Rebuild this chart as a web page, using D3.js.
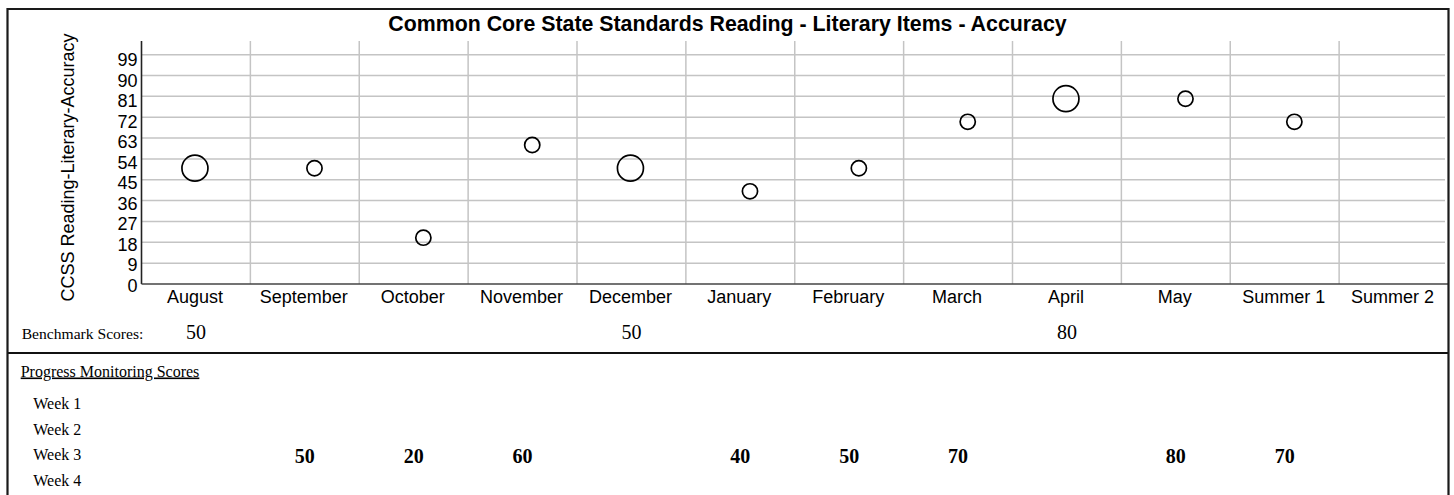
<!DOCTYPE html>
<html>
<head>
<meta charset="utf-8">
<script src="https://cdn.jsdelivr.net/npm/d3@7"></script>
<style>
  html, body { margin: 0; padding: 0; background: #fff; }
  svg { display: block; }
</style>
</head>
<body>
<svg id="chart" width="1454" height="495"></svg>
<script>
// ---- data ----
const title = "Common Core State Standards Reading - Literary Items - Accuracy";
const yAxisTitle = "CCSS Reading-Literary-Accuracy";
const months = ["August", "September", "October", "November", "December", "January",
                "February", "March", "April", "May", "Summer 1", "Summer 2"];
const yTicks = [0, 9, 18, 27, 36, 45, 54, 63, 72, 81, 90, 99];
const benchmarkScores = [50, null, null, null, 50, null, null, null, 80, null, null, null];
const weeks = ["Week 1", "Week 2", "Week 3", "Week 4"];
const week1Scores = [null, null, null, null, null, null, null, null, null, null, null, null];
const week2Scores = [null, null, null, null, null, null, null, null, null, null, null, null];
const week3Scores = [null, 50, 20, 60, null, 40, 50, 70, null, 80, 70, null];
const week4Scores = [null, null, null, null, null, null, null, null, null, null, null, null];
const weekScores = [week1Scores, week2Scores, week3Scores, week4Scores];

// ---- layout ----
const svg = d3.select("#chart");
const plot = { left: 141.5, right: 1448, top: 41, bottom: 284 };

const x = d3.scaleBand().domain(months).range([plot.left, plot.right]).padding(0);
const y = d3.scaleLinear().domain([0, 104.9]).range([plot.bottom, plot.top]);
const yLabel = d3.scaleLinear().domain([0, 99]).range([285.5, 60]);
const weekOffset = d3.scalePoint().domain(weeks).range([-29, 29]);

const gridColor = "#c4c4c4";
const sans = "'Liberation Sans', Arial, sans-serif";
const serif = "'Liberation Serif', 'Times New Roman', serif";

// horizontal gridlines
svg.append("g").selectAll("line").data(yTicks.filter(d => d > 0)).join("line")
  .attr("x1", plot.left).attr("x2", 1445)
  .attr("y1", d => y(d)).attr("y2", d => y(d))
  .attr("stroke", gridColor).attr("stroke-width", 1.5);

// vertical gridlines (band boundaries)
svg.append("g").selectAll("line").data(months.slice(1)).join("line")
  .attr("x1", d => x(d)).attr("x2", d => x(d))
  .attr("y1", plot.top).attr("y2", plot.bottom)
  .attr("stroke", gridColor).attr("stroke-width", 1.5);

// axes lines
svg.append("line").attr("x1", plot.left).attr("x2", plot.left)
  .attr("y1", plot.top).attr("y2", plot.bottom)
  .attr("stroke", "#222").attr("stroke-width", 1.6);
svg.append("line").attr("x1", plot.left).attr("x2", plot.right)
  .attr("y1", plot.bottom).attr("y2", plot.bottom)
  .attr("stroke", "#444").attr("stroke-width", 1.6);

// y tick labels
svg.append("g").selectAll("text").data(yTicks).join("text")
  .attr("x", 137.5).attr("y", d => yLabel(d)).attr("dy", "0.35em")
  .attr("text-anchor", "end")
  .attr("font-family", sans).attr("font-size", 18).attr("fill", "#000")
  .text(d => d);

// x labels
svg.append("g").selectAll("text").data(months).join("text")
  .attr("x", d => x(d) + x.bandwidth() / 2 - 1).attr("y", 303)
  .attr("text-anchor", "middle")
  .attr("font-family", sans).attr("font-size", 18).attr("fill", "#000")
  .text(d => d);

// y axis title
svg.append("text")
  .attr("transform", "translate(74,167.5) rotate(-90)")
  .attr("text-anchor", "middle")
  .attr("font-family", sans).attr("font-size", 18).attr("fill", "#000")
  .text(yAxisTitle);

// title
svg.append("text")
  .attr("x", 727.5).attr("y", 31)
  .attr("text-anchor", "middle")
  .attr("font-family", sans).attr("font-size", 21.33).attr("font-weight", "bold")
  .attr("fill", "#000")
  .text(title);

// benchmark circles
const bench = months.map((m, i) => ({ m, v: benchmarkScores[i] })).filter(d => d.v != null);
svg.append("g").selectAll("circle").data(bench).join("circle")
  .attr("cx", d => x(d.m) + x.bandwidth() / 2 - 1)
  .attr("cy", d => y(d.v))
  .attr("r", 13)
  .attr("fill", "none").attr("stroke", "#000").attr("stroke-width", 1.7);

// progress monitoring circles
const prog = [];
weeks.forEach((w, wi) => {
  months.forEach((m, i) => {
    const v = weekScores[wi][i];
    if (v != null) prog.push({ m, w, v });
  });
});
svg.append("g").selectAll("circle").data(prog).join("circle")
  .attr("cx", d => x(d.m) + x.bandwidth() / 2 + weekOffset(d.w))
  .attr("cy", d => y(d.v))
  .attr("r", 7.6)
  .attr("fill", "none").attr("stroke", "#000").attr("stroke-width", 1.7);

// ---- table section ----
svg.append("text").attr("x", 21.7).attr("y", 339.3)
  .attr("font-family", serif).attr("font-size", 15.6).attr("fill", "#000")
  .text("Benchmark Scores:");

svg.append("g").selectAll("text").data(bench).join("text")
  .attr("x", d => x(d.m) + x.bandwidth() / 2).attr("y", 338.5)
  .attr("text-anchor", "middle")
  .attr("font-family", serif).attr("font-size", 20).attr("fill", "#000")
  .text(d => d.v);

svg.append("line").attr("x1", 7).attr("x2", 1448.5).attr("y1", 353).attr("y2", 353)
  .attr("stroke", "#111").attr("stroke-width", 1.8);

svg.append("text").attr("x", 20.7).attr("y", 376.5)
  .attr("font-family", serif).attr("font-size", 16).attr("fill", "#000")
  .attr("text-decoration", "underline")
  .text("Progress Monitoring Scores");

const weekRow = d3.scalePoint().domain(weeks).range([409.3, 486]);
svg.append("g").selectAll("text").data(weeks).join("text")
  .attr("x", 33.3).attr("y", d => weekRow(d))
  .attr("font-family", serif).attr("font-size", 16).attr("fill", "#000")
  .text(d => d);

svg.append("g").selectAll("text").data(prog).join("text")
  .attr("x", d => x(d.m) + x.bandwidth() / 2).attr("y", d => weekRow(d.w) + 3)
  .attr("text-anchor", "middle")
  .attr("font-family", serif).attr("font-size", 20).attr("font-weight", "bold")
  .attr("fill", "#000")
  .text(d => d.v);

// outer border (left, top, right)
svg.append("path")
  .attr("d", `M7.5,600 L7.5,9 L1448.5,9 L1448.5,600`)
  .attr("fill", "none").attr("stroke", "#1a1a1a").attr("stroke-width", 2.2);
</script>
</body>
</html>
